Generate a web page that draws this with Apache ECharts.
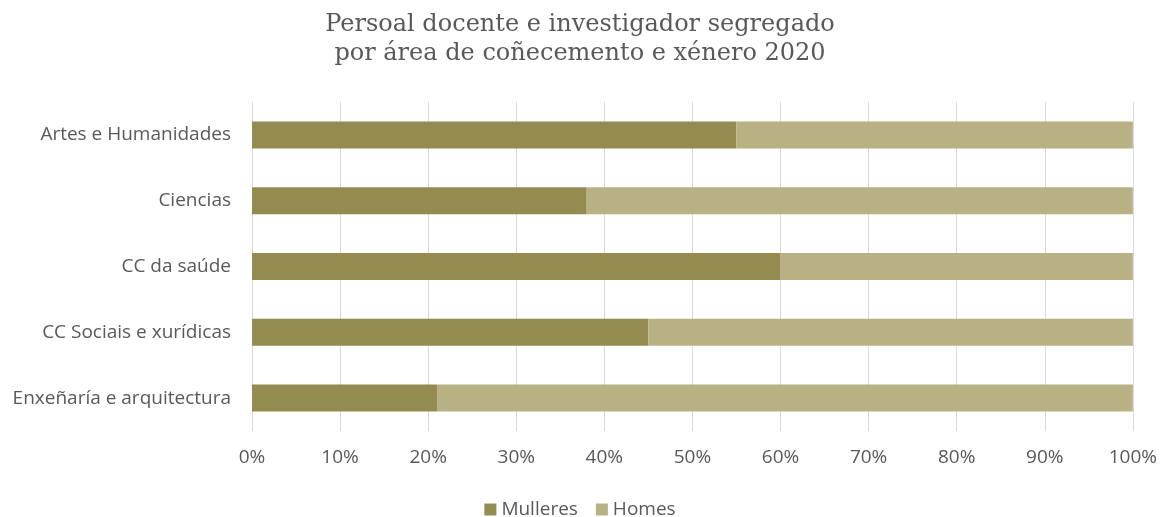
<!DOCTYPE html>
<html>
<head>
<meta charset="utf-8">
<script src="https://cdn.jsdelivr.net/npm/echarts@6/dist/echarts.min.js"></script>
<style>
  html, body { margin: 0; padding: 0; background: #fff; }
  #main { width: 1160px; height: 517px; }
</style>
</head>
<body>
<div id="main"></div>
<script>
// areas, top to bottom as in the picture
var areas = ['Artes e Humanidades', 'Ciencias', 'CC da saúde', 'CC Sociais e xurídicas', 'Enxeñaría e arquitectura'];
var mulleres = [55, 38, 60, 45, 21];
var homes = [45, 62, 40, 55, 79];

var myChart = echarts.init(document.getElementById('main'));

myChart.setOption({
    backgroundColor: '#ffffff',
    title: {
        text: 'Persoal docente e investigador segregado\npor área de coñecemento e xénero 2020',
        left: 'center',
        top: 5,
        textStyle: {
            fontFamily: 'DejaVu Serif',
            fontWeight: 'normal',
            fontSize: 24,
            lineHeight: 29,
            color: '#595959'
        }
    },
    legend: {
        top: 495,
        left: 'center',
        itemWidth: 12,
        itemHeight: 12,
        itemGap: 18,
        icon: 'rect',
        textStyle: { fontFamily: 'Open Sans', fontSize: 19, color: '#595959' },
        data: ['Mulleres', 'Homes']
    },
    grid: { left: 252, right: 27, top: 102, bottom: 86 },
    xAxis: {
        type: 'value',
        min: 0,
        max: 100,
        interval: 10,
        axisLine: { show: false },
        axisTick: { show: false },
        splitLine: { lineStyle: { color: '#d9d9d9', width: 1 } },
        axisLabel: {
            formatter: '{value}%',
            fontFamily: 'Open Sans',
            fontSize: 19,
            color: '#595959',
            margin: 17
        }
    },
    yAxis: {
        type: 'category',
        inverse: true,
        data: areas,
        axisLine: { show: false },
        axisTick: { show: false },
        axisLabel: {
            fontFamily: 'Open Sans',
            fontSize: 19,
            color: '#595959',
            margin: 21
        }
    },
    series: [
        {
            name: 'Mulleres',
            type: 'bar',
            stack: 'total',
            barWidth: 27,
            itemStyle: { color: '#948b50' },
            data: mulleres
        },
        {
            name: 'Homes',
            type: 'bar',
            stack: 'total',
            barWidth: 27,
            itemStyle: { color: '#b8b183' },
            data: homes
        }
    ]
});
</script>
</body>
</html>
